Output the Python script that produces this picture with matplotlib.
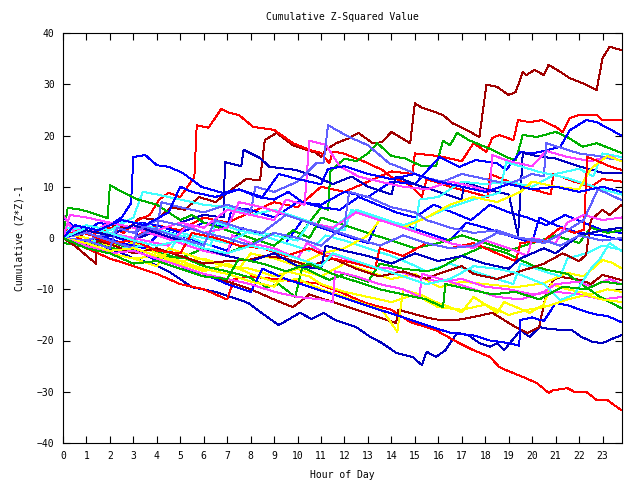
import matplotlib
matplotlib.use("Agg")
import matplotlib.pyplot as plt

# colours used by the old gnuplot png terminal
RED, GREEN, BLUE, MAGENTA, CYAN = "#ff0000", "#00b000", "#0000ff", "#ff40ff", "#40ffff"
DKRED, YELLOW, SLATE, DKBLUE = "#a00000", "#ffff00", "#6060ff", "#0000c0"

title = "Cumulative Z-Squared Value"
xlabel = "Hour of Day"
ylabel = "Cumulative (Z*Z)-1"
hour_ticks = list(range(0, 24))
value_ticks = [-40, -30, -20, -10, 0, 10, 20, 30, 40]

# each run: hours and cumulative values
s01_h = [0, 0.5, 1, 1.6, 2, 2.8, 3.3, 4, 4.6, 5.2, 5.8, 6.5, 7.2, 7.8, 8.4, 8.6, 9.1, 9.8, 10.8, 11.0,
         11.2, 11.65, 12.2, 12.6, 13.2, 13.6, 14.0, 14.8, 15.0, 15.3, 15.6, 16.2, 16.6, 17.2, 17.75,
         18.05, 18.5, 19.0, 19.3, 19.6, 19.75, 20.1, 20.5, 20.7, 21.2, 21.6, 22.15, 22.75, 23.0, 23.3, 23.8]
s01_v = [1, -1, 1.5, 1, 2.5, 2, 4, 3.5, 6, 5.5, 8, 7, 9.5, 11.5, 11.3, 19.1, 20.5, 18.1, 16.6, 15.8,
         17.2, 18.5, 19.5, 20.5, 18.5, 18.7, 20.7, 18.5, 26.3, 25.4, 25, 24, 22.4, 21.1, 19.7,
         29.9, 29.5, 27.9, 28.5, 32.4, 31.8, 32.8, 31.8, 33.8, 32.4, 31.2, 30.2, 28.9, 35.1, 37.3, 36.7]

s02_h = [0, 0.6, 1.2, 2.0, 2.6, 3.2, 3.7, 4.1, 4.5, 5.0, 5.6, 5.7, 6.2, 6.75, 7.1, 7.5, 8.1, 9.0, 9.8,
         10.5, 11.0, 11.35, 11.5, 11.9, 12.9, 13.6, 14.0, 14.8, 15.3, 15.5, 16.5, 17.5, 18.1, 18.2,
         19.0, 20.0, 20.8, 20.9, 21.8, 22.5, 23.0, 23.8]
s02_v = [0, 1.5, 0.5, 2.0, 1.0, 3.5, 4.5, 7.5, 8.8, 8.0, 11.9, 22.0, 21.5, 25.2, 24.4, 24.0, 21.7, 21.1,
         18.5, 17.2, 16.6, 14.6, 16.8, 16.6, 14.8, 13.3, 11.9, 10.3, 8.0, 11.5, 10.0, 8.8, 8.0, 12.5,
         11.0, 9.5, 8.5, 12.5, 11.0, 10.0, 11.5, 11.0]

s03_h = [0, 1, 2, 3, 4, 5, 6, 7, 8, 9, 10, 11, 12, 13, 14, 14.9, 15.0, 16, 17, 17.5, 18.05, 18.3, 18.6,
         19.2, 19.4, 19.9, 20.4, 21.0, 21.3, 21.6, 22.0, 22.75, 23.0, 23.8]
s03_v = [2, -1, 1, 0, 2.5, 1.5, 4, 3, 5, 7, 6, 10, 9, 11, 13, 12.5, 16.5, 16, 15, 18.5, 16.8, 19.5, 20.1,
         19.1, 23, 22.6, 23, 21.7, 20.7, 23.4, 24, 24, 23, 23]

s04_h = [0, 0.7, 1.5, 2.5, 3.3, 4.2, 5, 6, 7, 8, 9, 10, 11.0, 11.3, 11.4, 12, 12.5, 13.0, 13.4, 14, 14.6,
         15.3, 15.9, 16.2, 16.5, 16.8, 17.3, 18.3, 18.9, 19.3, 19.6, 20.2, 21.0, 21.5, 22.15, 22.75, 23.8]
s04_v = [0, -1.5, -1, -2.5, -1.5, -3, -4, -2, -3, -1, 1, 0, 6, 5.5, 13, 15.5, 15, 16.5, 18.5, 16, 15.5,
         14, 14, 19, 18.1, 20.5, 19.1, 17.2, 15.8, 15.2, 20.1, 19.7, 20.7, 19.7, 17.8, 18.5, 16.6]

s05_h = [0, 1, 2, 3, 3.3, 4, 5, 6, 7, 7.2, 8, 9, 10, 11, 12, 13, 14, 15, 16.05, 16.9, 17.6, 18.5, 18.9,
         19.5, 20, 20.7, 21.2, 21.6, 22.3, 22.75, 23.2, 23.8]
s05_v = [3, 1.5, 0.5, -1, 3, 2.5, 1, 3, 2, 6, 5.5, 4, 7, 6.5, 9, 8, 11, 10.5, 15.8, 13.9, 15.2, 14.6, 13.3,
         16.8, 16.5, 17.2, 17.8, 21, 23, 22.6, 21.5, 20]

s06_h = [0, 0.5, 1, 1.5, 2, 2.5, 2.9, 3.0, 3.5, 4.0, 4.5, 5.1, 5.9, 6.8, 7.5, 8.3, 9.0, 9.6, 10.2, 11,
         11.8, 12.6, 13.4, 14.2, 15, 15.8, 16.6, 17.4, 18.2, 19, 19.8, 20.6, 21.4, 22.2, 23, 23.8]
s06_v = [4, 2, 1, 3, 2.5, 4, 6.8, 15.8, 16.2, 14.2, 13.9, 12.7, 10, 8.8, 9.5, 8, 7.5, 9, 7, 6, 5.5, 8,
         6.5, 5, 4, 6.5, 5, 3.5, 6.5, 5, 4, 2.5, 4.5, 3, 1.5, 1]

s07_h = [0, 1, 2, 3, 4, 5, 6, 6.85, 6.9, 7.6, 7.7, 8.4, 8.8, 9.9, 10.8, 11.5, 12.3, 13, 14, 14.2, 15,
         16, 17, 17.1, 18, 19, 19.4, 19.6, 20.2, 21, 22, 23, 23.8]
s07_v = [0, -1, 0.5, -0.5, 1.5, 3, 4.5, 4, 14.8, 14, 17.2, 15.6, 13.9, 13.3, 12, 10.5, 12, 10, 8.5, 12,
         10.5, 9, 7.5, 11, 9.5, 8.5, 0.5, 16.6, 16, 15.5, 14, 12.7, 12.7]

s08_h = [0, 0.8, 1.5, 2.3, 3.0, 3.8, 4.5, 5.5, 6.5, 7.5, 7.9, 8.7, 9.2, 9.8, 10.1, 10.6, 11.1, 11.6, 12.0,
         12.5, 13.1, 13.6, 14.2, 14.9, 15.3, 15.5, 15.9, 16.3, 16.8, 17.3, 17.75, 18.2, 18.5, 18.8, 19.5,
         19.9, 20.3, 20.8, 21.7, 22.1, 22.6, 23.0, 23.5, 23.8]
s08_v = [0, -1, -2, -2.5, -4, -5, -6.5, -9.6, -10.5, -12, -12.7, -15.4, -17, -15.4, -14.6, -15.8, -14.6,
         -16, -16.6, -17.4, -19.3, -20.5, -22.4, -23.2, -24.8, -22.2, -23.2, -21.9, -18.5, -19, -20.5,
         -21.2, -20.5, -21.9, -18, -19.3, -17.4, -17.8, -18, -19.3, -20.3, -20.5, -19.5, -19]

s09_h = [0, 1, 2, 3, 4, 5, 6, 7, 7.3, 8, 9, 10, 10.8, 11.9, 12.9, 14, 14.8, 15.9, 16.8, 17.5, 18.2,
         18.6, 18.9, 19.6, 20.2, 20.7, 20.9, 21.5, 21.8, 22.3, 22.75, 23.2, 23.8]
s09_v = [0, -2, -4, -5.5, -7, -9, -10, -12, -8, -7.5, -8, -8.5, -8.8, -10.7, -12.7, -14, -16.4, -18,
         -20.3, -21.9, -23.2, -25.2, -25.8, -27.1, -28.3, -30.2, -29.7, -29.3, -30, -30, -31.6, -31.6, -33.6]

s10_h = [0, 1, 2, 3, 4, 5, 6, 7, 8, 9, 9.8, 10.5, 11.5, 12.5, 13.5, 14.2, 14.3, 15.5, 16.05, 16.8, 17.5,
         18.3, 19.3, 19.8, 20.3, 20.6, 20.9, 21.2, 22.1, 22.5, 23.0, 23.8]
s10_v = [-1, -1.5, -3, -2.5, -4, -5.5, -7, -8.5, -10, -12, -13.5, -11, -12.5, -14, -15.5, -16.6, -14,
         -15.5, -16, -16, -15.4, -14.6, -17.4, -18.5, -17.4, -10.7, -8.2, -7.6, -8.2, -9, -7.2, -8.2]

s11_h = [0, 1, 2, 3, 4, 5, 6, 7, 8, 9, 10, 11, 12, 12.9, 13.6, 14.25, 14.5, 15.2, 15.9, 16.5, 17.0, 17.5,
         18.0, 18.5, 18.8, 19.9, 20.5, 20.8, 21.5, 22.5, 23.2, 23.8]
s11_v = [0, -1.5, -3, -4, -3.5, -5, -6.5, -5, -7, -8.5, -8, -10, -11.5, -13, -14, -18.3, -10.1, -11,
         -12.5, -13.5, -14.5, -11.5, -13, -14.6, -12.5, -14.6, -13, -9, -10, -11, -10, -10.5]

s12_h = [0, 1, 2, 3, 4, 5, 6, 7, 8, 9, 10, 11, 12, 13, 14, 15, 16.05, 17, 18, 19.3, 20.5, 21.1, 21.5,
         22.2, 23, 23.4, 23.8]
s12_v = [1, 0, -1.5, -1, -3, -4.5, -4, -5.5, -6, -7.5, -6, -7.5, -5, -6.5, -8, -7, -9.6, -8.5, -9, -9.6,
         -8.8, -7.6, -6.8, -7.5, -4.3, -4.8, -5.9]

s13_h = [0, 0.8, 1.6, 2.5, 3.5, 4.2, 5, 6, 7, 7.6, 8.5, 9.5, 10.2, 11, 12, 13, 13.5, 14.5, 15.5, 16.5,
         17.2, 18, 19, 20, 20.3, 21, 22, 23, 23.8]
s13_v = [0, -1, 0.5, -1, -2, 1.5, 0.5, -1, -2.5, 2, 0.5, -1, 3.5, 2, 0.5, -1, 4, 2.5, 1, -0.5, 3, 2, 0.5,
         -1, 4, 2.5, 1, 0.5, -0.4]

s14_h = [0, 1, 2, 2.6, 3.5, 4.5, 5.5, 6.3, 6.5, 7.5, 8.5, 9.5, 10.5, 11.2, 12, 13, 14, 14.8, 15.5, 16.5,
         17.5, 18.5, 19.2, 19.5, 20.5, 21.2, 21.5, 22.3, 23, 23.8]
s14_v = [2, 1.5, 0.5, 3.5, 2.5, 1, 0, -1.5, 3, 1.5, 0.5, -1, -2.5, 0.5, -0.5, -2, -3.5, -5, -6.5, -5,
         -6.5, -8, -9, -5, -6.5, -7.5, -4, -3, -1.5, -2.3]

s15_h = [0, 0.5, 1.2, 2, 3, 4, 5, 6, 7, 7.2, 8, 9, 10, 10.4, 11, 12, 13, 14, 15, 16, 17, 18, 19, 20, 21,
         22, 23, 23.8]
s15_v = [3, 2, 1, 3, 2, 0.5, -1, -2.5, -3.5, 0.5, -1, -2, -4, -1, -2.5, -4, -5.5, -6, -7.5, -8.5, -8,
         -9.5, -10, -11, -10.5, -11, -12, -11.5]

s16_h = [0, 1, 2, 3, 4, 5, 6, 7, 7.9, 8.7, 9.2, 9.9, 10.2, 11.35, 12, 13, 13.5, 14.5, 15.5, 16.05, 16.9,
         17.9, 18.9, 19.5, 20.1, 20.6, 21.5, 22.3, 22.9, 23.8]
s16_v = [-1, -1.5, -0.5, -2.5, -4, -3.5, -5.5, -6.5, -7.6, -9.6, -9, -11.5, -5.7, -8.2, -7, -8.5, -5,
         -6, -6.5, -5.9, -3.7, -1.7, -2.9, -4.3, -5.5, -6.2, -7, -9.6, -11.5, -13.7]

s17_h = [0, 1, 2, 3, 4, 5, 6, 7, 8, 8.5, 9.5, 10.5, 11.5, 12.5, 13.5, 14.5, 15.5, 16.5, 17.5, 18.2,
         19.0, 19.45, 19.5, 20, 20.5, 21.0, 21.5, 22.3, 22.8, 23.2, 23.8]
s17_v = [0, -1, -2.5, -2, -4.5, -6, -7, -9, -10.5, -6, -8, -9.5, -11, -12.5, -14, -15.5, -17, -18.5, -19,
         -20, -20.5, -21, -16, -15.5, -16.2, -12.7, -13.1, -14.4, -15, -15.2, -16.4]

s18_h = [0, 1, 2, 3, 3.4, 4, 5, 6, 7, 8, 9, 10, 11, 12, 12.3, 13, 14, 15, 15.2, 16, 17, 18, 19, 20, 21,
         22, 22.6, 23, 23.8]
s18_v = [1, 2.5, 1.5, 4, 9, 8.5, 7.5, 6.5, 6, 4.5, 5.5, 4, 2.5, 1.5, 5.5, 4.5, 3, 1.5, 7.5, 8, 11, 10.5,
         11, 10, 12.5, 13.5, 12, 16.5, 15.8]

s19_h = [0, 0.2, 0.8, 1.5, 1.9, 2.0, 2.6, 3.2, 4, 4.5, 5, 5.5, 6, 7, 8, 9, 9.8, 10.5, 11, 12, 13, 14, 15,
         16, 17, 18, 19, 20, 21, 22, 22.5, 23.2, 23.8]
s19_v = [0, 5.9, 5.5, 4.5, 3.9, 10.3, 8.8, 7.5, 6.5, 5, 3.5, 4.5, 3, 1.5, 0, -1.5, 1.5, 0, 4, 2.5, 1,
         -0.5, -2, -1, 0.5, -1, -2.5, -1, 0.5, -1, 2, 1, 1.5]

s20_h = [0, 0.3, 1, 2, 3, 4, 5, 6, 7, 8, 9, 9.5, 10.3, 10.5, 11.2, 11.8, 12.6, 13.5, 14.5, 15.5, 16.5,
         17.5, 18.2, 18.3, 19, 20, 20.6, 21.5, 22.5, 23.3, 23.8]
s20_v = [0, 4.5, 4, 3, 2, 1.5, 3, 2, 5.5, 4.5, 3.5, 7.5, 6.5, 19, 18.2, 14, 12, 11, 10, 9.5, 11, 10, 9,
         16.2, 15, 14, 17, 15.8, 15, 16, 15]

s21_h = [0, 1, 2, 3, 4, 4.2, 5, 6, 7, 8, 8.2, 9, 10, 10.8, 11.1, 11.3, 12.2, 13, 13.9, 14.8, 15.3, 16.2,
         17, 18, 19, 20, 20.5, 20.6, 21.3, 22, 22.8, 23.3, 23.8]
s21_v = [0, -0.5, 1, 0, 2, 7, 6, 5, 6.5, 5, 10, 9, 11, 14.6, 14.6, 22, 19.7, 18.1, 14.6, 13, 11.9, 11,
         12.5, 11.5, 10.5, 12.5, 12, 18.5, 17.5, 16.5, 16, 15.5, 15.2]

s22_h = [0, 0.5, 1.5, 2.5, 3.5, 4.5, 5, 6, 7, 8, 9, 10, 10.5, 11.5, 12.5, 13.5, 14.5, 15.5, 16.5, 17.5,
         18.6, 18.9, 20.3, 21.5, 22.3, 23, 23.8]
s22_v = [0, -1.5, -0.5, -2, -1.5, -3, 1, 0, -1, 1.5, 0.5, -0.5, 3, 2, 5.5, 4, 2.5, 4, 6, 7.5, 8.8, 14.8,
         12.9, 11.7, 10.5, 9.5, 8.5]

s23_h = [0, 1, 2, 3, 4, 4.5, 5.5, 6.5, 7.5, 8, 9, 10, 11, 12, 13, 13.5, 14.5, 15.5, 16.5, 17.5, 18.5,
         19.5, 20, 21, 22, 22.5, 23.2, 23.8]
s23_v = [0, -2, -3, -4, -5.5, -2, -3.5, -5, -6, -3, -4, -5.5, -3, -2, 0.5, 3.5, 2, 4, 6.5, 8, 7, 9, 11,
         10, 9.5, 13.5, 16, 15]

s24_h = [0, 0.5, 1.4, 1.45, 2.2, 3, 4, 5, 6, 7, 7.9, 8.6, 9.5, 10.5, 11.5, 12.5, 13.5, 14.5, 15.5, 16,
         17, 17.5, 18.5, 19.5, 20.5, 21.3, 22, 22.3, 22.5, 23, 23.3, 23.8]
s24_v = [0, -1.5, -5, -0.5, -1.5, -3, -2, -3.5, -5, -4.5, -4.3, -3.5, -4, -5.5, -4, -6, -7.5, -6.5, -8,
         -7, -5.5, -7, -8, -6.5, -5, -3, -4.5, -3.3, 3.5, 5.5, 4.5, 6.4]

s25_h = [0, 1, 2, 3, 4, 5, 5.5, 6.5, 7.5, 8.5, 9.5, 10.5, 11.5, 12.5, 13.3, 13.5, 14.5, 15.5, 16.5, 17.5,
         18.5, 19.3, 19.5, 20.5, 21.2, 21.8, 22.2, 22.35, 22.8, 23.3, 23.8]
s25_v = [0, 1, -1, -0.5, -2.5, -3, 1, 0, -1.5, -2, -3.5, -2, -4, -5, -6, -2, -3.5, -1, -2, -1, -3, -4.5,
         -1, -0.5, 2, 1, 1.6, 15.8, 15, 14, 13.3]

s26_h = [0, 0.5, 1.5, 2.5, 3.5, 4.5, 5.3, 6, 7, 7.5, 8.5, 9.5, 10.5, 11.5, 12.5, 13.5, 14.5, 15.5, 16.5,
         17.5, 18, 19, 19.8, 20, 21, 21.5, 22.2, 23, 23.8]
s26_v = [4.5, 1, 1.5, 0.5, -0.5, -1.5, 2.5, 1, 2, 7, 6, 4.5, 3, 2, 5, 3.5, 2, 0.5, -1, -2, -0.5, -2, -3.5,
         0, -1, 3, 4.5, 3.5, 4]

s27_h = [0, 1, 2, 3, 3.2, 4, 5, 6, 6.5, 7.5, 8.5, 9.5, 10.5, 11.5, 12.5, 13.5, 14.5, 15.5, 16.5, 17.5,
         18.5, 19.5, 20.5, 21.5, 22.2, 22.8, 23.3, 23.8]
s27_v = [0, 1, -0.5, -2, 2.5, 1.5, 0, -1.5, 3.5, 2, 1, 4.5, 3, 1.5, 0, -1.5, 0.5, -1, -2, -1.5, 1, 0,
         -1, 1.5, 3.5, 9.5, 8.5, 7.4]

s28_h = [0, 1, 2, 3, 4, 5, 6, 7, 8, 9, 10, 11, 11.2, 12, 13, 14, 15, 16, 17, 18, 19, 19.5, 20.5, 21, 22,
         23, 23.8]
s28_v = [0, 1.5, 0.5, 2.5, 1, -0.5, -2, -3.5, -4.5, -3, -5.5, -6, -1.5, -2.5, -3.5, -5, -3, -4.5, -3.5,
         -5, -6, -4, -2, -3, 0.5, 1.5, 2]

s29_h = [0, 1, 2, 2.3, 3, 4, 5, 6, 7, 8, 9, 10, 11, 12, 12.2, 13, 14, 15, 15.5, 16.5, 17.5, 18.5, 19.5,
         20.5, 21.2, 22, 23, 23.8]
s29_v = [0, -0.5, -2, 2, 1, 3.5, 2.5, 1, 0, -1.5, 1, 0, -1.5, 2.5, 9, 8, 6, 5, 3.5, 2, 1, 1.5, 0, -0.5,
         -1.5, 0.5, -0.5, 0]

s30_h = [0, 1, 2, 3, 4, 5, 6, 7, 8, 9, 9.5, 10.5, 11, 12, 13, 14, 15, 16, 17, 18, 19, 19.8, 20.5, 21.5,
         22.3, 23, 23.8]
s30_v = [0, -1, -2.5, -2, -3.5, -4.5, -6, -7, -8.5, -9.5, -6.5, -7.5, -9, -10.5, -11.5, -12.5, -11,
         -13.5, -14, -13, -15, -14, -13.5, -12, -11.1, -12, -12.5]

s31_h = [0, 1, 2, 3, 4, 5, 6, 7, 8, 9, 10, 11, 11.5, 11.6, 12.5, 13.5, 14.5, 15.2, 15.3, 16.5, 17.5,
         18.5, 19.5, 20.5, 21, 22, 22.5, 23.3, 23.8]
s31_v = [0, -1.5, -3, -2.5, -4, -5.5, -7, -8, -9, -10.5, -11.5, -12, -12.5, -6.5, -7.5, -9, -10, -11.5,
         -7, -8.5, -10, -11.5, -12, -10.5, -9, -8.5, -9.5, -8, -9]

s32_h = [0, 1, 2, 3, 4, 5, 6, 7, 8, 9, 10, 11, 11.5, 12.5, 13.5, 14.5, 15.5, 16.5, 17.5, 18.5, 19.3,
         20.5, 21.2, 21.8, 22.5, 22.9, 23.3, 23.8]
s32_v = [0, 2, 1, -0.5, -1.5, -0.5, -2, -3, -1.5, -2.5, -4, -5.5, -3, -4.5, -6, -7.5, -9, -8, -5.5, -6,
         -6.8, -9, -12.1, -11, -6, -4, -1, -2.5]

s33_h = [0, 0.5, 1.5, 2.5, 3.5, 4.5, 5, 5.5, 6.5, 7.5, 8.5, 9.2, 10, 11, 11.3, 12, 13, 14, 15, 16, 17,
         18, 19, 20, 21, 22, 23, 23.8]
s33_v = [0, 2.5, 1.5, 3.5, 2.5, 5, 10, 9, 8, 9.5, 8, 12.5, 11.5, 10.5, 13.5, 14, 12.5, 11.5, 12.5, 11,
         10, 9, 10.5, 9.5, 10, 9, 10, 9]

s34_h = [0, 1, 2, 3, 4, 5, 6, 7, 7.5, 8.5, 9.5, 10.5, 11.5, 12.5, 13.5, 14.5, 15.5, 16.2, 16.3, 17.3,
         18.3, 19.3, 20.3, 21.3, 22.3, 23, 23.8]
s34_v = [0, -2, -3, -5, -4.5, -6, -7.5, -8, -4, -5, -6.5, -5, -7, -8.5, -10, -11, -12, -13.5, -9, -10,
         -11, -10.5, -12, -9.5, -10, -8.5, -9]

runs = [
    (s01_h, s01_v, DKRED), (s02_h, s02_v, RED), (s03_h, s03_v, RED), (s04_h, s04_v, GREEN),
    (s05_h, s05_v, BLUE), (s06_h, s06_v, BLUE), (s07_h, s07_v, DKBLUE), (s08_h, s08_v, DKBLUE),
    (s09_h, s09_v, RED), (s10_h, s10_v, DKRED), (s11_h, s11_v, YELLOW), (s12_h, s12_v, YELLOW),
    (s13_h, s13_v, BLUE), (s14_h, s14_v, CYAN), (s15_h, s15_v, MAGENTA), (s16_h, s16_v, GREEN),
    (s17_h, s17_v, BLUE), (s18_h, s18_v, CYAN), (s19_h, s19_v, GREEN), (s20_h, s20_v, MAGENTA),
    (s21_h, s21_v, SLATE), (s22_h, s22_v, CYAN), (s23_h, s23_v, YELLOW), (s24_h, s24_v, DKRED),
    (s25_h, s25_v, RED), (s26_h, s26_v, MAGENTA), (s27_h, s27_v, SLATE), (s28_h, s28_v, DKBLUE),
    (s29_h, s29_v, SLATE), (s30_h, s30_v, YELLOW), (s31_h, s31_v, MAGENTA), (s32_h, s32_v, CYAN),
    (s33_h, s33_v, BLUE), (s34_h, s34_v, GREEN),
]

plt.rcParams['font.family'] = ['DejaVu Sans Mono']
plt.rcParams['font.size'] = 7

fig = plt.figure(figsize=(6.4, 4.8), dpi=100)
ax = fig.add_axes([63/640, 1 - 443/480, (622 - 63)/640, (443 - 33)/480])

for h, v, c in runs:
    ax.plot(h, v, color=c, linewidth=0.7, antialiased=False)

ax.set_xlim(0, 23.83)
ax.set_ylim(-40, 40)
ax.set_xticks(hour_ticks)
ax.set_yticks(value_ticks)
ax.tick_params(direction="in", length=5, width=0.8, top=True, right=True, pad=6)
for sp in ax.spines.values():
    sp.set_linewidth(0.8)

ax.set_title(title, fontsize=7, pad=9.5)
ax.set_xlabel(xlabel, labelpad=6)
ax.set_ylabel(ylabel, labelpad=9)

fig.savefig("out.png", dpi=100)
